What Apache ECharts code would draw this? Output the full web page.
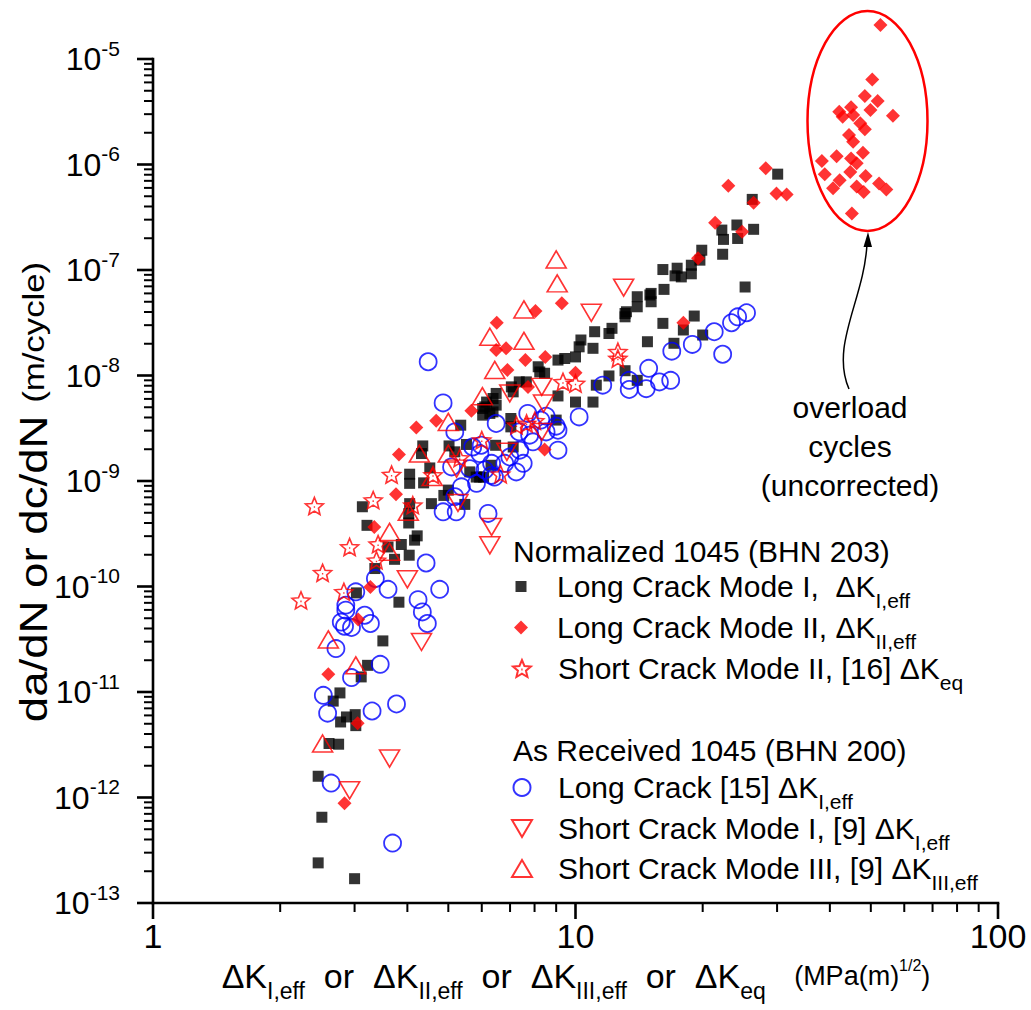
<!DOCTYPE html>
<html>
<head>
<meta charset="utf-8">
<title>Fatigue crack growth rate, 1045 steel</title>
<script src="https://cdn.jsdelivr.net/npm/echarts@6/dist/echarts.min.js"></script>
<style>
  html, body { margin: 0; padding: 0; background: #ffffff; }
  #chart { width: 1031px; height: 1010px; }
</style>
</head>
<body>
<div id="chart"></div>
<script>
// ---- data: [ΔK (MPa·m^1/2), da/dN (m/cycle)] ----
const longCrackModeI = [
  [2.46,1.59e-12],[2.75,3.2e-12],[2.61,3.25e-12],[2.51,6.5e-13],[2.46,2.4e-13],[3.00,1.7e-13],
  [3.87,2.5e-10],[4.04,1.98e-10],[3.73,1.81e-10],[3.60,2.37e-10],[3.35,1.48e-10],[3.03,8.7e-11],
  [3.82,7.1e-11],[3.50,3.05e-11],[3.22,1.79e-11],[3.11,1.39e-11],[2.77,9.8e-12],[2.67,8.2e-12],
  [2.78,5.2e-12],[2.87,5.8e-12],[3.01,6.1e-12],[3.02,4.8e-12],[4.16,2.75e-10],
  [6.49,6.76e-9],[6.10,5.04e-9],[6.38,4.52e-9],[6.03,4.21e-9],[5.35,3.38e-9],[4.35,2.15e-9],
  [5.02,2.15e-9],[5.52,2.22e-9],[6.47,2.18e-9],[4.32,1.82e-9],[4.52,1.33e-9],[4.05,1.16e-9],
  [4.05,9.5e-10],[4.37,9.6e-10],[5.62,1.22e-9],[5.93,1.09e-9],[6.31,1.41e-9],[6.06,1.09e-9],
  [5.00,8.2e-10],[4.88,7.3e-10],[4.56,6.1e-10],[5.47,6.0e-10],[3.13,5.7e-10],[4.05,6.1e-10],
  [4.03,4.9e-10],[4.03,4.0e-10],[3.21,3.8e-10],[4.22,3.02e-10],
  [14.0,5.58e-8],[15.0,5.8e-8],[14.0,4.48e-8],[13.2,4.02e-8],[13.1,3.6e-8],[12.2,2.8e-8],
  [12.0,2.5e-8],[11.1,2.6e-8],[10.3,2.17e-8],[10.2,1.87e-8],[11.0,1.81e-8],[10.0,1.5e-8],
  [9.43,1.45e-8],[9.09,1.4e-8],[8.16,1.21e-8],[8.23,1.08e-8],[8.45,1.05e-8],[7.36,8.7e-9],
  [7.65,8.7e-9],[7.05,7.8e-9],[7.12,7.0e-9],[14.8,2.09e-8],[13.1,1.11e-8],[12.0,9.9e-9],
  [14.0,9.0e-9],[11.2,8.1e-9],[9.09,6.4e-9],[10.0,5.6e-9],[11.0,5.6e-9],[9.0,3.78e-9],
  [6.38,6.05e-9],[6.16,5.6e-9],[6.49,5.24e-9],[6.03,4.87e-9],[6.27,4.37e-9],[7.03,3.91e-9],
  [7.03,3.26e-9],[5.18,1.89e-9],[7.12,2.1e-9],[5.82,1.09e-9],
  [30.1,8.1e-7],[26.2,4.67e-7],[24.1,2.67e-7],[26.4,2.43e-7],[22.2,2.39e-7],[22.4,1.95e-7],
  [24.2,1.99e-7],[19.9,1.54e-7],[19.7,1.24e-7],[18.8,1.11e-7],[22.3,1.41e-7],[16.1,1.01e-7],
  [17.4,1.04e-7],[17.2,8.8e-8],[17.8,8.6e-8],[18.8,9.2e-8],[16.2,6.55e-8],[15.1,6.0e-8],
  [15.1,5.0e-8],[13.1,3.87e-8],[25.2,6.9e-8],[19.1,3.66e-8],[18.0,2.7e-8],[20.0,2.42e-8],
  [16.1,3.12e-8],[17.1,2.02e-8]
];

const longCrackModeII = [
  [2.84,8.8e-13],[3.05,5.05e-12],[2.60,1.47e-11],[3.06,4.87e-11],[3.27,9.9e-11],[3.34,3.67e-10],
  [3.76,7.5e-10],[3.82,1.78e-9],[4.20,3.22e-9],[4.68,3.73e-9],[5.67,4.64e-9],[6.49,1.74e-8],
  [6.51,3.16e-8],[6.85,1.81e-8],[7.61,1.4e-8],[8.48,1.5e-8],[6.90,1.13e-8],[7.72,7.8e-9],
  [10.0,1.06e-8],[8.04,4.08e-8],[9.28,4.83e-8],[8.45,1.99e-9],[18.0,3.16e-8],[19.5,1.29e-7],
  [21.4,2.8e-7],[24.8,2.3e-7],[26.4,4.34e-7],[23.0,6.3e-7],[28.2,9.2e-7],[29.9,5.3e-7],
  [31.6,5.2e-7]
];

// mode II overload cycles, uncorrected
const overloadCycles = [
  [52.7,2.1e-5],[50.4,6.4e-6],[48.4,4.46e-6],[51.9,4.0e-6],[49.9,3.29e-6],[56.4,2.9e-6],
  [42.1,3.17e-6],[42.9,2.84e-6],[44.9,3.49e-6],[45.4,2.95e-6],[47.2,2.46e-6],[48.4,2.16e-6],
  [44.4,1.9e-6],[45.4,1.64e-6],[47.9,1.29e-6],[41.5,1.2e-6],[44.9,1.14e-6],[46.3,1.03e-6],
  [38.3,1.08e-6],[38.9,8.1e-7],[44.7,8.5e-7],[48.6,7.8e-7],[42.2,7.1e-7],[40.7,5.94e-7],
  [46.3,6.2e-7],[48.1,5.5e-7],[52.3,6.6e-7],[54.4,5.8e-7],[45.1,3.44e-7]
];

const shortCrackModeII = [
  [2.41,5.8e-10],[3.67,1.15e-9],[3.32,6.6e-10],[4.60,1.14e-9],[4.12,5.9e-10],[5.32,1.65e-9],
  [6.00,2.44e-9],[2.92,2.37e-10],[3.41,2.52e-10],[3.38,1.77e-10],[2.52,1.35e-10],[2.24,7.4e-11],
  [2.83,8.9e-11],[12.6,1.68e-8],[12.6,1.45e-8],[9.34,8.7e-9],[10.0,8.4e-9],[8.01,3.72e-9],
  [7.25,3.38e-9],[7.66,3.51e-9],[6.65,1.16e-9]
];

const asReceivedLongCrack = [
  [2.64,1.37e-12],[3.69,3.7e-13],[4.43,1.67e-10],[4.77,9.4e-11],[3.60,9.4e-11],[4.24,7.5e-11],
  [4.34,5.74e-11],[4.46,4.46e-11],[3.36,1.19e-10],[3.02,8.9e-11],[2.86,6.66e-11],[2.86,5.97e-11],
  [2.79,4.6e-11],[2.95,4.09e-11],[3.17,5.34e-11],[3.27,4.46e-11],[2.84,4.2e-11],[2.71,2.58e-11],
  [3.45,1.83e-11],[2.95,1.37e-11],[2.53,9.3e-12],[2.59,6.3e-12],[3.30,6.6e-12],[3.77,7.7e-12],
  [4.48,1.35e-8],[4.86,5.5e-9],[5.18,2.92e-9],[6.49,3.51e-9],[5.98,2.18e-9],[5.94,1.82e-9],
  [5.09,1.36e-9],[5.37,8.8e-10],[5.83,9.5e-10],[6.32,1.13e-9],[4.86,5.1e-10],[5.22,5.1e-10],
  [6.21,4.93e-10],[7.71,4.37e-9],[8.52,4.12e-9],[9.09,3.03e-9],[10.2,4.05e-9],[11.6,8.1e-9],
  [13.4,7.37e-9],[14.7,7.5e-9],[14.9,1.17e-8],[7.36,2.92e-9],[7.79,2.72e-9],[7.93,2.35e-9],
  [8.52,2.92e-9],[9.09,1.96e-9],[6.99,1.69e-9],[7.38,1.96e-9],[7.52,1.47e-9],[6.80,1.47e-9],
  [7.24,1.22e-9],[6.33,1.47e-9],[6.43,1.09e-9],[6.10,1.27e-9],[5.71,2.1e-9],[5.62,1.31e-9],
  [5.18,7.1e-10],[8.28,3.78e-9],[9.00,3.31e-9],[25.4,3.93e-8],[24.2,3.6e-8],[23.4,3.16e-8],
  [21.3,2.6e-8],[18.9,1.97e-8],[16.9,1.7e-8],[22.3,1.59e-8],[15.8,8.7e-9],[16.8,9.0e-9],
  [13.4,9.0e-9]
];

const asReceivedShortModeI = [
  [3.63,2.34e-12],[2.92,1.17e-12],[4.00,1.17e-10],[4.32,2.98e-11],[6.27,2.46e-10],[5.27,6.2e-10],
  [6.33,3.67e-10],[13.0,6.8e-8],[10.9,3.93e-8],[8.32,7.8e-9],[6.99,6.76e-9],[8.40,5.43e-9],
  [8.32,2.92e-9],[6.88,1.89e-9],[5.23,1.31e-9]
];

const asReceivedShortModeIII = [
  [2.52,3.25e-12],[2.60,3.15e-11],[3.02,1.79e-11],[3.63,2.13e-10],[6.27,2.33e-8],[6.44,1.13e-8],
  [6.02,6.37e-9],[5.00,3.63e-9],[4.27,1.82e-9],[5.00,1.82e-9],[4.58,1.09e-9],[4.02,5.1e-10],
  [3.63,3.29e-10],[9.00,1.26e-7],[9.05,7.47e-8],[7.55,4.23e-8],[7.55,2.13e-8]
];

// ---- axis ranges and ticks ----
const xRange = [1, 100];
const yRange = [1e-13, 1e-5];
const xMajorTicks = [1, 10, 100];
const xMinorTicks = [2, 3, 4, 5, 6, 7, 8, 9, 20, 30, 40, 50, 60, 70, 80, 90];
const yMajorTicks = [1e-13, 1e-12, 1e-11, 1e-10, 1e-9, 1e-8, 1e-7, 1e-6, 1e-5];
const yMinorTicks = [];
for (let e = -13; e < -5; e++) {
  for (let m = 2; m <= 9; m++) yMinorTicks.push(m * Math.pow(10, e));
}

const FONT = '"Liberation Sans", Arial, Helvetica, sans-serif';
const RED = '#ff0000';
const BLUE = '#0000ff';

const STAR = 'path://M0,-10 L2.645,-3.64 L9.51,-3.09 L4.28,1.39 L5.88,8.09 L0,4.5 L-5.88,8.09 L-4.28,1.39 L-9.51,-3.09 L-2.645,-3.64 Z M-0.7,0.2 L0.7,0.2';
const DOWN_TRIANGLE = 'path://M0,0 L20,0 L10,17 Z';

const hollow = (c, w) => ({ color: 'rgba(255,255,255,0)', borderColor: c, borderWidth: w });

const names = {
  n1: 'Long Crack Mode I, ΔK I,eff',
  n2: 'Long Crack Mode II, ΔK II,eff',
  n3: 'Short Crack Mode II, [16] ΔK eq',
  r1: 'Long Crack [15] ΔK I,eff',
  r2: 'Short Crack Mode I, [9] ΔK I,eff',
  r3: 'Short Crack Mode III, [9] ΔK III,eff'
};

// legend rows: marker size and the text with its subscript
const legendRows = [
  { name: names.n1, cy: 588, w: 11, h: 11, main: 'Long Crack Mode I,  ΔK', sub: 'I,eff' },
  { name: names.n2, cy: 629, w: 14, h: 14, main: 'Long Crack Mode II, ΔK', sub: 'II,eff' },
  { name: names.n3, cy: 670, w: 18, h: 17, main: 'Short Crack Mode II, [16] ΔK', sub: 'eq' },
  { name: names.r1, cy: 789, w: 17, h: 17, main: 'Long Crack [15] ΔK', sub: 'I,eff' },
  { name: names.r2, cy: 830, w: 20, h: 17, main: 'Short Crack Mode I, [9] ΔK', sub: 'I,eff' },
  { name: names.r3, cy: 870, w: 20, h: 17, main: 'Short Crack Mode III, [9] ΔK', sub: 'III,eff' }
];

const LINE_H = 32;
const legends = legendRows.map(r => ({
  data: [r.name],
  orient: 'vertical',
  left: 521 - r.w / 2,
  top: r.cy - LINE_H / 2 - 10,
  padding: 0,
  itemWidth: r.w,
  itemHeight: r.h,
  selectedMode: false,
  formatter: () => '{m|' + r.main + '}{s|' + r.sub + '}',
  textStyle: {
    rich: {
      m: { fontSize: 30, lineHeight: LINE_H, fontFamily: FONT, color: '#000', padding: [0, 0, 0, 31 - r.w / 2] },
      s: { fontSize: 21, lineHeight: LINE_H, fontFamily: FONT, color: '#000', padding: [28, 0, 0, 0] }
    }
  }
}));

// axis lines and tick marks, placed through the axes' own scales
function frameSeries() {
  return {
    type: 'custom', silent: true, clip: false, z: 5,
    data: [[xRange[0], yRange[0]]],
    renderItem: (params, api) => {
      const o = api.coord([xRange[0], yRange[0]]);
      const xe = api.coord([xRange[1], yRange[0]]);
      const ye = api.coord([xRange[0], yRange[1]]);
      const w = 2.6;
      return {
        type: 'group',
        children: [
          { type: 'rect', shape: { x: o[0] - w / 2, y: o[1] - w / 2, width: xe[0] - o[0] + w, height: w }, style: { fill: '#000' } },
          { type: 'rect', shape: { x: o[0] - w / 2, y: ye[1] - w / 2, width: w, height: o[1] - ye[1] + w }, style: { fill: '#000' } }
        ]
      };
    }
  };
}

function tickSeries(values, dim, len, width) {
  return {
    type: 'custom', silent: true, clip: false, z: 5,
    data: values.map(v => (dim === 'x' ? [v, yRange[0]] : [xRange[0], v])),
    renderItem: (params, api) => {
      const p = api.coord([api.value(0), api.value(1)]);
      const shape = dim === 'x'
        ? { x: p[0] - width / 2, y: p[1], width: width, height: len }
        : { x: p[0] - len, y: p[1] - width / 2, width: len, height: width };
      return { type: 'rect', shape: shape, style: { fill: '#000' } };
    }
  };
}

const chart = echarts.init(document.getElementById('chart'), null, { renderer: 'svg' });

chart.setOption({
  animation: false,
  backgroundColor: '#ffffff',
  textStyle: { fontFamily: FONT },
  grid: { left: 153, top: 59, width: 845, height: 844 },
  xAxis: {
    type: 'log',
    logBase: 10,
    min: xRange[0],
    max: xRange[1],
    position: 'bottom',
    axisLine: { show: false },
    axisTick: { show: false },
    axisLabel: {
      margin: 16,
      fontSize: 34,
      color: '#000',
      fontFamily: FONT,
      formatter: v => String(Math.round(v))
    },
    splitLine: { show: false }
  },
  yAxis: {
    type: 'log',
    logBase: 10,
    min: yRange[0],
    max: yRange[1],
    position: 'left',
    axisLine: { show: false },
    axisTick: { show: false },
    axisLabel: {
      margin: 33,
      color: '#000',
      formatter: v => '{b|10}{e|' + Math.round(Math.log10(v)) + '}',
      rich: {
        b: { fontSize: 32, fontFamily: FONT, color: '#000' },
        e: { fontSize: 21, fontFamily: FONT, color: '#000', padding: [0, 0, 22, 0] }
      }
    },
    splitLine: { show: false }
  },
  legend: legends,
  series: [
    {
      name: names.n1, type: 'scatter', data: longCrackModeI, clip: false,
      symbol: 'rect', symbolSize: 11, itemStyle: { color: '#000' }
    },
    {
      name: names.r1, type: 'scatter', data: asReceivedLongCrack, clip: false,
      symbol: 'circle', symbolSize: 17, itemStyle: hollow(BLUE, 1.8)
    },
    {
      name: names.n2, type: 'scatter', data: longCrackModeII, clip: false,
      symbol: 'diamond', symbolSize: 14, itemStyle: { color: RED }
    },
    {
      name: 'Overload cycles (uncorrected)', type: 'scatter', data: overloadCycles, clip: false,
      symbol: 'diamond', symbolSize: 14, itemStyle: { color: RED }
    },
    {
      name: names.n3, type: 'scatter', data: shortCrackModeII, clip: false,
      symbol: STAR, symbolSize: [18, 17], itemStyle: hollow(RED, 1.6)
    },
    {
      name: names.r2, type: 'scatter', data: asReceivedShortModeI, clip: false,
      symbol: DOWN_TRIANGLE, symbolSize: [20, 17], itemStyle: hollow(RED, 1.6)
    },
    {
      name: names.r3, type: 'scatter', data: asReceivedShortModeIII, clip: false,
      symbol: 'triangle', symbolSize: [20, 17], itemStyle: hollow(RED, 1.6)
    },
    frameSeries(),
    tickSeries(xMajorTicks, 'x', 16, 2.6),
    tickSeries(xMinorTicks, 'x', 9, 2),
    tickSeries(yMajorTicks, 'y', 16, 2.6),
    tickSeries(yMinorTicks, 'y', 9, 2)
  ],
  graphic: [
    // y axis title
    {
      type: 'text', x: 34, y: 492, rotation: Math.PI / 2, scaleX: 1.2,
      style: {
        text: '{a|da/dN or dc/dN }{b|(m/cycle)}',
        align: 'center', verticalAlign: 'middle',
        rich: {
          a: { fontSize: 38, fontFamily: FONT, fill: '#000' },
          b: { fontSize: 29, fontFamily: FONT, fill: '#000' }
        }
      }
    },
    // x axis title
    {
      type: 'text', x: 576, y: 976,
      style: {
        text: '{d|ΔK}{s|I,eff}{o|  or  }{d|ΔK}{s|II,eff}{o|  or  }{d|ΔK}{s|III,eff}{o|  or  }{d|ΔK}{s|eq}{o|   }{u|(MPa(m)}{p|1/2}{u|)}',
        align: 'center', verticalAlign: 'middle',
        rich: {
          d: { fontSize: 34, lineHeight: 36, fontFamily: FONT, fill: '#000' },
          o: { fontSize: 34, lineHeight: 36, fontFamily: FONT, fill: '#000' },
          s: { fontSize: 23, lineHeight: 36, fontFamily: FONT, fill: '#000', padding: [30, 0, 0, 0] },
          u: { fontSize: 27, lineHeight: 36, fontFamily: FONT, fill: '#000' },
          p: { fontSize: 16, lineHeight: 36, fontFamily: FONT, fill: '#000', padding: [0, 0, 22, 0] }
        }
      }
    },
    // legend group headers
    {
      type: 'text', x: 513, y: 551,
      style: { text: 'Normalized 1045 (BHN 203)', fontSize: 30, fontFamily: FONT, fill: '#000', align: 'left', verticalAlign: 'middle' }
    },
    {
      type: 'text', x: 513, y: 750,
      style: { text: 'As Received 1045 (BHN 200)', fontSize: 30, fontFamily: FONT, fill: '#000', align: 'left', verticalAlign: 'middle' }
    },
    // ring round the overload cycles
    {
      type: 'ellipse', shape: { cx: 867.5, cy: 121, rx: 60, ry: 110 },
      style: { fill: 'none', stroke: RED, lineWidth: 2.5 }, z: 10
    },
    // annotation
    {
      type: 'text', x: 850, y: 446,
      style: {
        text: 'overload\ncycles\n(uncorrected)', fontSize: 30, lineHeight: 39,
        fontFamily: FONT, fill: '#000', align: 'center', verticalAlign: 'middle'
      }
    },
    {
      type: 'bezierCurve',
      shape: { x1: 849, y1: 389, cpx1: 830, cpy1: 345, cpx2: 864, cpy2: 300, x2: 867, y2: 244 },
      style: { stroke: '#000', lineWidth: 1.5, fill: 'none' }
    },
    {
      type: 'polygon',
      shape: { points: [[868, 232], [863.5, 247], [872, 247]] },
      style: { fill: '#000' }
    }
  ]
});
</script>
</body>
</html>
